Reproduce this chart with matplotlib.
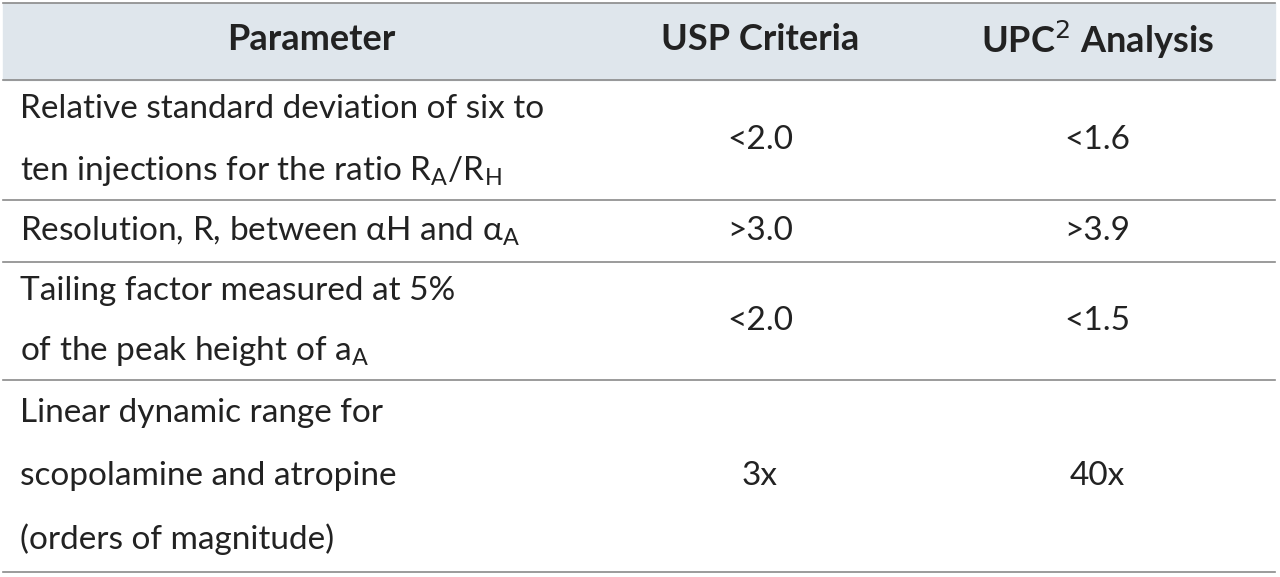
import matplotlib
matplotlib.use("Agg")
import matplotlib.pyplot as plt

headers = ["Parameter", "USP Criteria", r"UPC$^2$ Analysis"]
parameters = [
    ["Relative standard deviation of six to", r"ten injections for the ratio R$_\mathregular{A}$/R$_\mathregular{H}$"],
    [r"Resolution, R, between αH and α$_\mathregular{A}$"],
    ["Tailing factor measured at 5%", r"of the peak height of a$_\mathregular{A}$"],
    ["Linear dynamic range for", "scopolamine and atropine", "(orders of magnitude)"],
]
usp = ["<2.0", ">3.0", "<2.0", "3x"]
upc2 = ["<1.6", ">3.9", "<1.5", "40x"]

row_edges = [80, 200, 262, 380, 572]
line_pitch = [62, 0, 60, 63]

plt.rcParams['font.family'] = ['Lato', 'DejaVu Sans']
fig = plt.figure(figsize=(12.8, 5.77), dpi=100)
ax = fig.add_axes([0, 0, 1, 1])
ax.set_xlim(0, 1280)
ax.set_ylim(577, 0)
ax.axis('off')

ax.add_patch(plt.Rectangle((3, 3), 1272, 77, color='#dfe6ec', zorder=0))
for y in [3] + row_edges:
    ax.plot([3, 1275], [y, y], color='#8a8a8a', lw=1.2)

col_x = [311, 760, 1097]
for x, h in zip(col_x, headers):
    ax.text(x, 40, h, ha='center', va='center', fontsize=26, fontweight='bold', color='#222222')

fs = 24
for i, lines in enumerate(parameters):
    top, bot = row_edges[i], row_edges[i + 1]
    mid = (top + bot) / 2
    n = len(lines)
    for k, t in enumerate(lines):
        y = mid + (k - (n - 1) / 2) * line_pitch[i]
        ax.text(20, y, t, ha='left', va='center', fontsize=fs, color='#222222')
    ax.text(col_x[1], mid, usp[i], ha='center', va='center', fontsize=fs, color='#222222')
    ax.text(col_x[2], mid, upc2[i], ha='center', va='center', fontsize=fs, color='#222222')

fig.savefig("out.png", dpi=100)
